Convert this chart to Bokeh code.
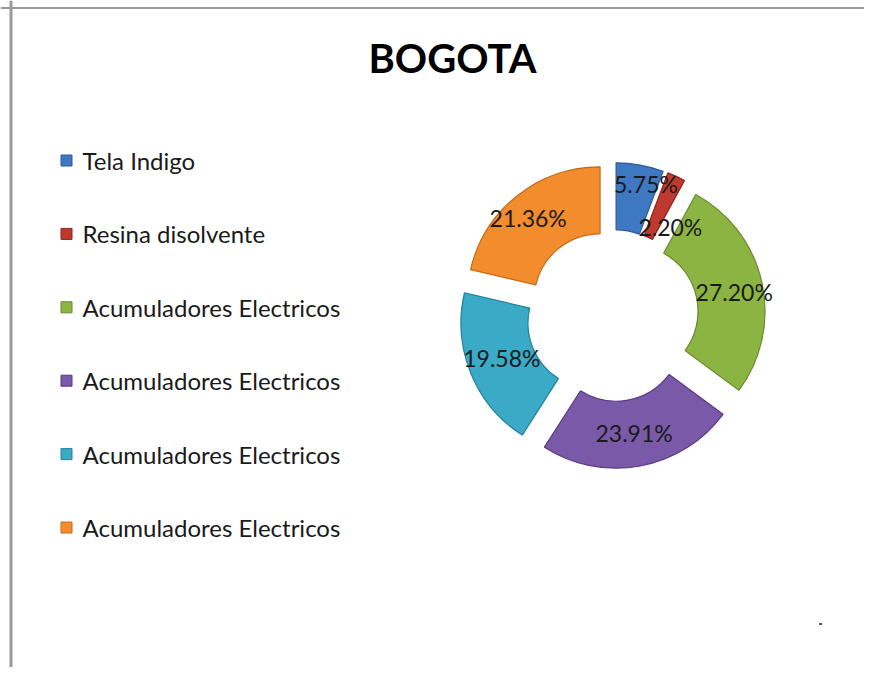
import numpy as np
from bokeh.plotting import figure
from bokeh.models import Range1d, Span
from bokeh.core.properties import value
from bokeh.embed import file_html
from bokeh.resources import INLINE

# ---- data ----
title = "BOGOTA"
categories = ["Tela Indigo", "Resina disolvente", "Acumuladores Electricos",
              "Acumuladores Electricos", "Acumuladores Electricos", "Acumuladores Electricos"]
values = [5.75, 2.20, 27.20, 23.91, 19.58, 21.36]
colors = ["#3f78c2", "#c0392f", "#8cb442", "#7959a8", "#3aaac7", "#f28c2c"]
edge_colors = ["#2c5a99", "#8a2420", "#688a2c", "#563c80", "#22839c", "#c56a18"]

# label nudges in screen pixels (style only)
label_dx = [12, 8, 5, 0, 0, -10]
label_dy = [-14, 20, 2, 0, -3, -4]

# ---- layout (canvas pixels) ----
W, H = 864, 667
def Y(cy):  # canvas y (down) -> data y (up)
    return H - cy

p = figure(width=W, height=H, x_range=Range1d(0, W), y_range=Range1d(0, H),
           output_backend="svg", toolbar_location=None, min_border=0,
           x_axis_location=None, y_axis_location=None)
p.grid.visible = False
p.outline_line_color = None
p.background_fill_color = "white"

# chart border (left and top visible)
p.add_layout(Span(location=10.5, dimension="height", line_color="#9a9a9a", line_width=3))
p.add_layout(Span(location=Y(7.5), dimension="width", line_color="#9a9a9a", line_width=2))

# title
p.text(x=[452], y=[Y(57)], text=[title], text_font=value("Lato"), text_font_style="bold",
       text_font_size="40px", text_align="center", text_baseline="middle", text_color="#000000")

# donut
cx, cy = 612, Y(315)
R_out, R_in, explode = 133, 66, 20
vals = np.array(values)
frac = vals / vals.sum()
f_end = np.cumsum(frac)
f_start = f_end - frac
f_mid = (f_start + f_end) / 2
start_ang = np.pi / 2 - 2 * np.pi * f_end
end_ang = np.pi / 2 - 2 * np.pi * f_start
mid_ang = np.pi / 2 - 2 * np.pi * f_mid
xs = cx + explode * np.cos(mid_ang)
ys = cy + explode * np.sin(mid_ang)

p.annular_wedge(x=xs, y=ys, inner_radius=R_in, outer_radius=R_out,
                start_angle=start_ang, end_angle=end_ang, direction="anticlock",
                fill_color=colors, line_color=edge_colors, line_width=1.2)

r_lab = (R_in + R_out) / 2
lx = xs + r_lab * np.cos(mid_ang)
ly = ys + r_lab * np.sin(mid_ang)
labels = [f"{v:.2f}%" for v in values]
p.text(x=lx, y=ly, text=labels, x_offset=label_dx, y_offset=label_dy,
       text_font=value("Lato"), text_font_size="23px",
       text_align="center", text_baseline="middle", text_color="#1a1a1a")

# legend
leg_x, leg_y0, leg_dy = 66, 160, 73.4
ly_leg = [Y(leg_y0 + i * leg_dy) for i in range(len(categories))]
p.rect(x=[leg_x] * len(categories), y=ly_leg, width=11, height=11,
       fill_color=colors, line_color=edge_colors, line_width=1)
p.text(x=[leg_x + 16] * len(categories), y=ly_leg, text=categories,
       text_font=value("Lato"), text_font_size="24px", text_align="left",
       text_baseline="middle", text_color="#1a1a1a")

# small stray mark
p.rect(x=[820], y=[Y(623.5)], width=3, height=2, fill_color="#555555", line_color=None)

open("out.html", "w").write(file_html(p, INLINE))
